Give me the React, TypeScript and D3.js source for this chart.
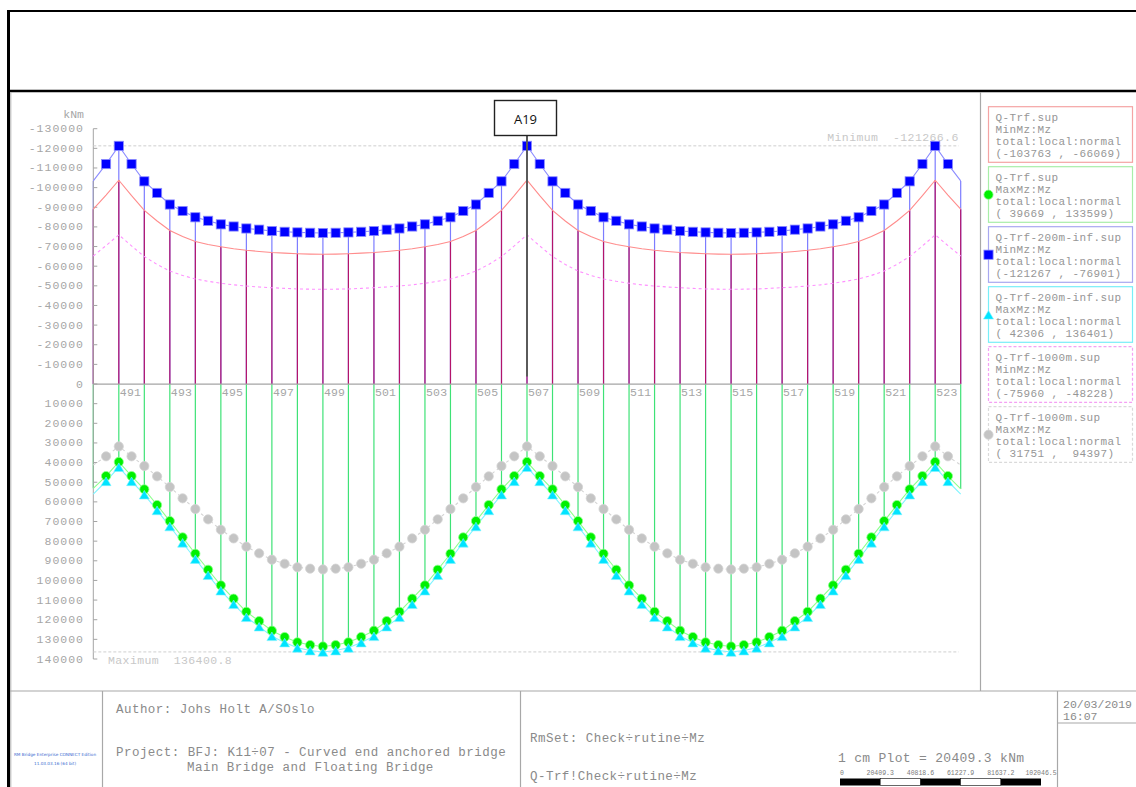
import React from "react";
import * as d3 from "d3";

// Stations along the bridge, half-station resolution
const stations: number[] = d3.range(490, 524.0001, 0.5);
const stationLabels = [491, 493, 495, 497, 499, 501, 503, 505, 507, 509, 511, 513, 515, 517, 519, 521, 523];
const yTicks = [
  -130000, -120000, -110000, -100000, -90000, -80000, -70000, -60000, -50000, -40000, -30000, -20000, -10000, 0,
  10000, 20000, 30000, 40000, 50000, 60000, 70000, 80000, 90000, 100000, 110000, 120000, 130000, 140000,
];

// Q-Trf.sup MinMz (kNm)
const qTrfMin = [
  -89000, -96200,
  -103763, -95900, -88400, -83000, -78200, -75100, -72600, -71000, -69900, -68900, -68100, -67500, -67000, -66650, -66350, -66150,
  -66069, -66150, -66350, -66650, -67000, -67500, -68100, -68900, -69900, -71000, -72600, -75100, -78200, -83000, -88400, -95900,
  -103763, -95900, -88400, -83000, -78200, -75100, -72600, -71000, -69900, -68900, -68100, -67500, -67000, -66650, -66350, -66150,
  -66069, -66150, -66350, -66650, -67000, -67500, -68100, -68900, -69900, -71000, -72600, -75100, -78200, -83000, -88400, -95900,
  -103763, -96200, -89000,
];
// Q-Trf.sup MaxMz
const qTrfMax = [
  53100, 46850,
  39669, 46850, 53600, 61600, 69760, 78060, 86400, 94550, 102500, 109300, 115950, 120700, 125600, 128800, 131500, 132900,
  133599, 132900, 131500, 128800, 125600, 120700, 115950, 109300, 102500, 94550, 86400, 78060, 69760, 61600, 53600, 46850,
  39669, 46850, 53600, 61600, 69760, 78060, 86400, 94550, 102500, 109300, 115950, 120700, 125600, 128800, 131500, 132900,
  133599, 132900, 131500, 128800, 125600, 120700, 115950, 109300, 102500, 94550, 86400, 78060, 69760, 61600, 53600, 46850,
  39669, 46850, 53400,
];
// Q-Trf-200m-inf.sup MinMz
const q200Min = [
  -103400, -112000,
  -121267, -112000, -103200, -97300, -91400, -88100, -84900, -83100, -81300, -80200, -79200, -78600, -77900, -77500, -77200, -77000,
  -76901, -77000, -77200, -77500, -77900, -78600, -79200, -80200, -81300, -83100, -84900, -88100, -91400, -97300, -103200, -112000,
  -121267, -112000, -103200, -97300, -91400, -88100, -84900, -83100, -81300, -80200, -79200, -78600, -77900, -77500, -77200, -77000,
  -76901, -77000, -77200, -77500, -77900, -78600, -79200, -80200, -81300, -83100, -84900, -88100, -91400, -97300, -103200, -112000,
  -121267, -112000, -103400,
];
// Q-Trf-200m-inf.sup MaxMz
const q200Max = [
  56000, 49500,
  42306, 49500, 56300, 64300, 72500, 80800, 89100, 97300, 105200, 112100, 118700, 123500, 128400, 131600, 134300, 135700,
  136401, 135700, 134300, 131600, 128400, 123500, 118700, 112100, 105200, 97300, 89100, 80800, 72500, 64300, 56300, 49500,
  42306, 49500, 56300, 64300, 72500, 80800, 89100, 97300, 105200, 112100, 118700, 123500, 128400, 131600, 134300, 135700,
  136401, 135700, 134300, 131600, 128400, 123500, 118700, 112100, 105200, 97300, 89100, 80800, 72500, 64300, 56300, 49500,
  42306, 49500, 56000,
];
// Q-Trf-1000m.sup MinMz
const q1000Min = [
  -65200, -70500,
  -75960, -70300, -64900, -60900, -57500, -55300, -53500, -52300, -51300, -50500, -49900, -49400, -49050, -48700, -48400, -48300,
  -48228, -48300, -48400, -48700, -49050, -49400, -49900, -50500, -51300, -52300, -53500, -55300, -57500, -60900, -64900, -70300,
  -75960, -70300, -64900, -60900, -57500, -55300, -53500, -52300, -51300, -50500, -49900, -49400, -49050, -48700, -48400, -48300,
  -48228, -48300, -48400, -48700, -49050, -49400, -49900, -50500, -51300, -52300, -53500, -55300, -57500, -60900, -64900, -70300,
  -75960, -70500, -65200,
];
// Q-Trf-1000m.sup MaxMz
const q1000Max = [
  41250, 36800,
  31751, 36800, 41750, 47000, 52450, 58200, 63650, 68900, 74200, 78600, 82800, 86200, 89450, 91500, 93300, 94000,
  94397, 94000, 93300, 91500, 89450, 86200, 82800, 78600, 74200, 68900, 63650, 58200, 52450, 47000, 41750, 36800,
  31751, 36800, 41750, 47000, 52450, 58200, 63650, 68900, 74200, 78600, 82800, 86200, 89450, 91500, 93300, 94000,
  94397, 94000, 93300, 91500, 89450, 86200, 82800, 78600, 74200, 68900, 63650, 58200, 52450, 47000, 41750, 36800,
  31751, 36800, 41250,
];

const envelopeMin = -121266.6;
const envelopeMax = 136400.8;
const supportStation = 507;
const supportName = "A19";

const legendTitles = ["Q-Trf.sup", "Q-Trf.sup", "Q-Trf-200m-inf.sup", "Q-Trf-200m-inf.sup", "Q-Trf-1000m.sup", "Q-Trf-1000m.sup"];
const legendResults = ["MinMz:Mz", "MaxMz:Mz", "MinMz:Mz", "MaxMz:Mz", "MinMz:Mz", "MaxMz:Mz"];
const legendPath = "total:local:normal";

const scaleBarLabels = ["0", "20409.3", "40818.6", "61227.9", "81637.2", "102046.5"];

const MONO = "'Liberation Mono', 'DejaVu Sans Mono', monospace";

type Marker = "none" | "circle" | "square" | "triangle";
const seriesList: { values: number[]; line: string; fill: string; dash?: string; marker: Marker; box: string }[] = [
  { values: qTrfMin, line: "#ff8c8c", fill: "#ff8c8c", marker: "none", box: "#f4a4a4" },
  { values: qTrfMax, line: "#8cff8c", fill: "#00f000", marker: "circle", box: "#a8eea8" },
  { values: q200Min, line: "#8c8cff", fill: "#0000ff", marker: "square", box: "#a8a8f0" },
  { values: q200Max, line: "#80f4ff", fill: "#00e4ff", marker: "triangle", box: "#78eef8" },
  { values: q1000Min, line: "#ff90ff", fill: "#ff90ff", dash: "3,3", marker: "none", box: "#f4a0f4" },
  { values: q1000Max, line: "#d4d4d4", fill: "#c4c4c4", dash: "3,3", marker: "circle", box: "#dadada" },
];

function fmtRange(v: number) {
  const s = String(Math.round(v));
  return s.length >= 6 ? s : " ".repeat(6 - s.length) + s;
}

function drawMarker(kind: Marker, cx: number, cy: number, fill: string, edge: string, key: string) {
  if (kind === "circle") return <circle key={key} cx={cx} cy={cy} r={4.6} fill={fill} stroke={edge} strokeWidth={0.8} />;
  if (kind === "square")
    return <rect key={key} x={cx - 4.6} y={cy - 4.6} width={9.2} height={9.2} fill={fill} stroke={edge} strokeWidth={0.8} />;
  if (kind === "triangle")
    return (
      <path key={key} d={`M${cx},${cy - 4.2}L${cx + 5},${cy + 4.4}L${cx - 5},${cy + 4.4}Z`} fill={fill} stroke={edge} strokeWidth={0.6} />
    );
  return null;
}

export default function App() {
  const x = d3.scaleLinear().domain([490, 524]).range([93.3, 960.7]);
  const y = d3.scaleLinear().domain([-130000, 140000]).range([128.7, 659]);
  const y0 = y(0);

  const line = (vals: number[]) =>
    d3
      .line<number>()
      .x((_, i) => x(stations[i]))
      .y((v) => y(v))(vals) || "";

  const fullStations = stations.filter((s) => Number.isInteger(s));
  const idxOf = (s: number) => stations.indexOf(s);

  const axisColor = "#a4a4a4";
  const labelColor = "#a6a6a6";

  return (
    <svg
      width={1136}
      height={787}
      style={{ position: "absolute", left: 0, top: 0, background: "#fff" }}
      xmlns="http://www.w3.org/2000/svg"
    >
      <rect x={0} y={0} width={1136} height={787} fill="#fff" />

      {/* sheet frame */}
      <line x1={8} x2={1136} y1={11} y2={11} stroke="#000" strokeWidth={2} />
      <line x1={8} x2={1136} y1={91} y2={91} stroke="#000" strokeWidth={2.5} />
      <rect x={7} y={10} width={3} height={777} fill="#000" />
      <line x1={10.8} x2={10.8} y1={92} y2={787} stroke="#b0b0b0" strokeWidth={1} />
      <line x1={980.5} x2={980.5} y1={92} y2={691} stroke="#a8a8a8" strokeWidth={1.2} />
      <line x1={10} x2={1136} y1={691} y2={691} stroke="#a8a8a8" strokeWidth={1.2} />
      <line x1={102.5} x2={102.5} y1={691} y2={787} stroke="#a8a8a8" strokeWidth={1.2} />
      <line x1={520.5} x2={520.5} y1={691} y2={787} stroke="#a8a8a8" strokeWidth={1.2} />
      <line x1={1057.5} x2={1057.5} y1={691} y2={787} stroke="#a8a8a8" strokeWidth={1.2} />
      <line x1={1057.5} x2={1136} y1={723} y2={723} stroke="#a8a8a8" strokeWidth={1.2} />

      {/* station verticals: hogging side */}
      {fullStations.map((s) => (
        <line key={`vb${s}`} x1={x(s)} x2={x(s)} y1={y0} y2={y(q200Min[idxOf(s)])} stroke="#7c7cff" strokeWidth={1.2} />
      ))}
      {fullStations.map((s) => (
        <line key={`vr${s}`} x1={x(s)} x2={x(s)} y1={y0} y2={y(qTrfMin[idxOf(s)])} stroke="#b4146a" strokeWidth={1.2} />
      ))}
      {/* station verticals: sagging side */}
      {fullStations.map((s) => (
        <line key={`vg${s}`} x1={x(s)} x2={x(s)} y1={y0} y2={y(qTrfMax[idxOf(s)])} stroke="#3ee276" strokeWidth={1.2} />
      ))}

      {/* axes */}
      <line x1={x(490)} x2={x(490)} y1={y(-130000)} y2={y(140000)} stroke={axisColor} strokeWidth={1} />
      <line x1={x(490)} x2={x(524)} y1={y0} y2={y0} stroke={axisColor} strokeWidth={1.2} />
      {yTicks.map((t) => (
        <g key={`t${t}`}>
          <line x1={x(490)} x2={x(490) + 4} y1={y(t)} y2={y(t)} stroke={axisColor} strokeWidth={1} />
          <text
            x={84}
            y={y(t)}
            textAnchor="end"
            dominantBaseline="central"
            fontFamily={MONO}
            fontSize={11.5}
            letterSpacing={1}
            fill={labelColor}
          >
            {t < 0 ? `-${Math.abs(t)}` : String(t)}
          </text>
        </g>
      ))}
      <text x={84} y={114} textAnchor="end" dominantBaseline="central" fontFamily={MONO} fontSize={11.5} fill={labelColor}>
        kNm
      </text>
      {stationLabels.map((s) => (
        <text
          key={`sl${s}`}
          x={x(s) + 1}
          y={392.5}
          dominantBaseline="central"
          fontFamily={MONO}
          fontSize={11.5}
          letterSpacing={0.2}
          fill={labelColor}
        >
          {s}
        </text>
      ))}

      {/* envelope extremes */}
      <line x1={x(490)} x2={x(524) - 2} y1={y(envelopeMin)} y2={y(envelopeMin)} stroke="#cfcfcf" strokeDasharray="3,2" />
      <line x1={x(490)} x2={x(524) - 2} y1={y(envelopeMax)} y2={y(envelopeMax)} stroke="#cfcfcf" strokeDasharray="3,2" />
      <text
        x={x(524) - 2}
        y={y(envelopeMin) - 8}
        textAnchor="end"
        dominantBaseline="central"
        fontFamily={MONO}
        fontSize={11.5}
        letterSpacing={0.4}
        fill="#c8c8c8"
        style={{ whiteSpace: "pre" }}
      >
        {`Minimum  ${envelopeMin.toFixed(1)}`}
      </text>
      <text
        x={108}
        y={y(envelopeMax) + 9}
        dominantBaseline="central"
        fontFamily={MONO}
        fontSize={11.5}
        letterSpacing={0.4}
        fill="#c8c8c8"
        style={{ whiteSpace: "pre" }}
      >
        {`Maximum  ${envelopeMax.toFixed(1)}`}
      </text>

      {/* result lines */}
      {seriesList.map((sr, k) => (
        <path key={`ln${k}`} d={line(sr.values)} fill="none" stroke={sr.line} strokeWidth={1.1} strokeDasharray={sr.dash} />
      ))}
      {/* markers (not at the end stations) */}
      {seriesList.map((sr, k) =>
        sr.values.map((v, i) =>
          i === 0 || i === sr.values.length - 1 ? null : drawMarker(sr.marker, x(stations[i]), y(v), sr.fill, sr.line, `m${k}-${i}`)
        )
      )}

      {/* support marker */}
      <line x1={x(supportStation)} x2={x(supportStation)} y1={135.5} y2={376.5} stroke="#5a5a5a" strokeWidth={2} />
      <rect x={494.5} y={100.5} width={62} height={35} fill="#fff" stroke="#222" strokeWidth={1.4} />
      <text
        x={525.5}
        y={118.5}
        textAnchor="middle"
        dominantBaseline="central"
        fontFamily="'Open Sans', 'Noto Sans', sans-serif"
        fontSize={13}
        fill="#111"
      >
        {supportName}
      </text>

      {/* legend */}
      {seriesList.map((sr, k) => {
        const top = 106.7 + k * 60;
        const [lo, hi] = d3.extent(sr.values) as [number, number];
        const rows = [legendTitles[k], legendResults[k], legendPath, `(${fmtRange(lo)} , ${fmtRange(hi)})`];
        return (
          <g key={`lg${k}`}>
            <rect
              x={988.5}
              y={top}
              width={144}
              height={55.6}
              fill="#fff"
              stroke={sr.box}
              strokeWidth={1.2}
              strokeDasharray={sr.dash ? "3,2" : undefined}
            />
            {rows.map((r, j) => (
              <text
                key={j}
                x={995.5}
                y={top + 11 + j * 12}
                dominantBaseline="central"
                fontFamily={MONO}
                fontSize={11}
                letterSpacing={0.4}
                fill="#969696"
                style={{ whiteSpace: "pre" }}
              >
                {r}
              </text>
            ))}
            {drawMarker(sr.marker, 988.5, top + 28, sr.fill, sr.line, `lm${k}`)}
          </g>
        );
      })}

      {/* title block */}
      <text x={55} y={756} textAnchor="middle" fontFamily="'DejaVu Sans', sans-serif" fontSize={4.2} fill="#3a6ad0">
        RM Bridge Enterprise CONNECT Edition
      </text>
      <text x={55} y={765} textAnchor="middle" fontFamily="'DejaVu Sans', sans-serif" fontSize={4.2} fill="#3a6ad0">
        11.03.03.16 (64 bit)
      </text>
      <g fontFamily={MONO} fill="#8a8a8a" fontSize={12.5} letterSpacing={0.46} style={{ whiteSpace: "pre" }}>
        <text x={116} y={713}>Author: Johs Holt A/SOslo</text>
        <text x={116} y={756}>Project: BFJ: K11÷07 - Curved end anchored bridge</text>
        <text x={187} y={771}>Main Bridge and Floating Bridge</text>
        <text x={530} y={742}>RmSet: Check÷rutine÷Mz</text>
        <text x={530} y={780}>Q-Trf!Check÷rutine÷Mz</text>
        <text x={838} y={762} fontSize={13} letterSpacing={0.3}>
          1 cm Plot = 20409.3 kNm
        </text>
        <text x={1063} y={708} fontSize={11.5} letterSpacing={0}>
          20/03/2019
        </text>
        <text x={1063} y={720} fontSize={11.5} letterSpacing={0}>
          16:07
        </text>
      </g>
      {/* scale bar */}
      {scaleBarLabels.map((l, i) => (
        <text
          key={`sb${i}`}
          x={840 + i * 40.2}
          y={775}
          textAnchor={i === 0 ? "start" : "middle"}
          fontFamily={MONO}
          fontSize={6.5}
          fill="#7a7a7a"
        >
          {l}
        </text>
      ))}
      {[0, 1, 2, 3, 4].map((i) => (
        <rect
          key={`sr${i}`}
          x={840 + i * 40.2}
          y={778.5}
          width={40.2}
          height={7}
          fill={i % 2 === 0 ? "#000" : "#fff"}
          stroke="#000"
          strokeWidth={i % 2 === 0 ? 0 : 0.6}
        />
      ))}
    </svg>
  );
}
